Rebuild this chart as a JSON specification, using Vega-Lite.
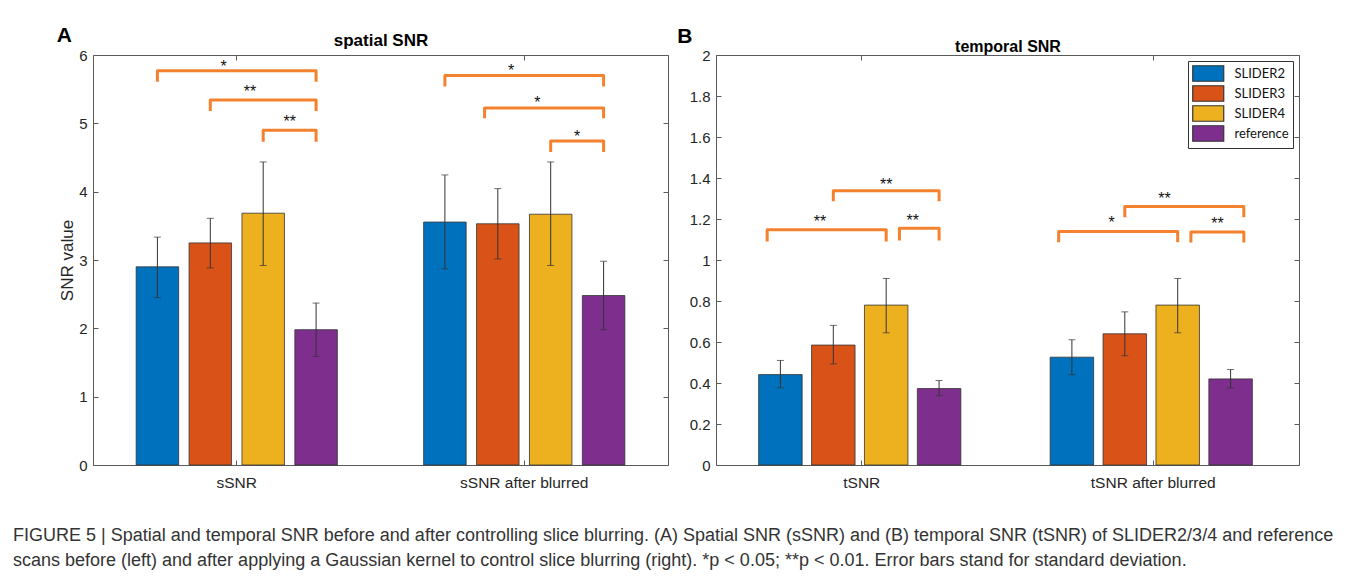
{
  "$schema": "https://vega.github.io/schema/vega-lite/v6.json",
  "background": "white",
  "padding": {"left": 13, "top": 24, "right": 5, "bottom": 2},
  "config": {
    "font": "Liberation Sans",
    "view": {"stroke": "#5a5a5a", "strokeWidth": 1},
    "axis": {
      "labelFont": "Liberation Sans",
      "labelFontSize": 15,
      "labelColor": "#262626",
      "titleFont": "Liberation Sans",
      "titleColor": "#262626",
      "tickColor": "#5a5a5a",
      "domain": false,
      "grid": false,
      "tickSize": -5
    }
  },
  "datasets": {
    "A": [
      {"group": "sSNR", "series": "SLIDER2", "mean": 2.90, "lo": 2.45, "hi": 3.335},
      {"group": "sSNR", "series": "SLIDER3", "mean": 3.25, "lo": 2.885, "hi": 3.61},
      {"group": "sSNR", "series": "SLIDER4", "mean": 3.685, "lo": 2.92, "hi": 4.435},
      {"group": "sSNR", "series": "reference", "mean": 1.98, "lo": 1.59, "hi": 2.37},
      {"group": "sSNR after blurred", "series": "SLIDER2", "mean": 3.555, "lo": 2.87, "hi": 4.245},
      {"group": "sSNR after blurred", "series": "SLIDER3", "mean": 3.53, "lo": 3.015, "hi": 4.045},
      {"group": "sSNR after blurred", "series": "SLIDER4", "mean": 3.67, "lo": 2.92, "hi": 4.435},
      {"group": "sSNR after blurred", "series": "reference", "mean": 2.48, "lo": 1.98, "hi": 2.98}
    ],
    "B": [
      {"group": "tSNR", "series": "SLIDER2", "mean": 0.441, "lo": 0.377, "hi": 0.510},
      {"group": "tSNR", "series": "SLIDER3", "mean": 0.585, "lo": 0.493, "hi": 0.681},
      {"group": "tSNR", "series": "SLIDER4", "mean": 0.780, "lo": 0.645, "hi": 0.910},
      {"group": "tSNR", "series": "reference", "mean": 0.373, "lo": 0.338, "hi": 0.412},
      {"group": "tSNR after blurred", "series": "SLIDER2", "mean": 0.526, "lo": 0.440, "hi": 0.611},
      {"group": "tSNR after blurred", "series": "SLIDER3", "mean": 0.640, "lo": 0.533, "hi": 0.747},
      {"group": "tSNR after blurred", "series": "SLIDER4", "mean": 0.780, "lo": 0.645, "hi": 0.910},
      {"group": "tSNR after blurred", "series": "reference", "mean": 0.420, "lo": 0.376, "hi": 0.466}
    ],
    "bracketsA": [
      {"group": "sSNR", "b": "A1", "slot": "SLIDER2", "y": 5.61, "o": 1},
      {"group": "sSNR", "b": "A1", "slot": "SLIDER2", "y": 5.77, "o": 2},
      {"group": "sSNR", "b": "A1", "slot": "reference", "y": 5.77, "o": 3},
      {"group": "sSNR", "b": "A1", "slot": "reference", "y": 5.61, "o": 4},
      {"group": "sSNR", "b": "A2", "slot": "SLIDER3", "y": 5.18, "o": 1},
      {"group": "sSNR", "b": "A2", "slot": "SLIDER3", "y": 5.34, "o": 2},
      {"group": "sSNR", "b": "A2", "slot": "reference", "y": 5.34, "o": 3},
      {"group": "sSNR", "b": "A2", "slot": "reference", "y": 5.18, "o": 4},
      {"group": "sSNR", "b": "A3", "slot": "SLIDER4", "y": 4.73, "o": 1},
      {"group": "sSNR", "b": "A3", "slot": "SLIDER4", "y": 4.90, "o": 2},
      {"group": "sSNR", "b": "A3", "slot": "reference", "y": 4.90, "o": 3},
      {"group": "sSNR", "b": "A3", "slot": "reference", "y": 4.73, "o": 4},
      {"group": "sSNR after blurred", "b": "A4", "slot": "SLIDER2", "y": 5.54, "o": 1},
      {"group": "sSNR after blurred", "b": "A4", "slot": "SLIDER2", "y": 5.70, "o": 2},
      {"group": "sSNR after blurred", "b": "A4", "slot": "reference", "y": 5.70, "o": 3},
      {"group": "sSNR after blurred", "b": "A4", "slot": "reference", "y": 5.54, "o": 4},
      {"group": "sSNR after blurred", "b": "A5", "slot": "q3", "y": 5.075, "o": 1},
      {"group": "sSNR after blurred", "b": "A5", "slot": "q3", "y": 5.225, "o": 2},
      {"group": "sSNR after blurred", "b": "A5", "slot": "reference", "y": 5.225, "o": 3},
      {"group": "sSNR after blurred", "b": "A5", "slot": "reference", "y": 5.075, "o": 4},
      {"group": "sSNR after blurred", "b": "A6", "slot": "SLIDER4", "y": 4.58, "o": 1},
      {"group": "sSNR after blurred", "b": "A6", "slot": "SLIDER4", "y": 4.74, "o": 2},
      {"group": "sSNR after blurred", "b": "A6", "slot": "reference", "y": 4.74, "o": 3},
      {"group": "sSNR after blurred", "b": "A6", "slot": "reference", "y": 4.58, "o": 4}
    ],
    "starsA": [
      {"group": "sSNR", "slot": "q5", "y": 5.89, "t": "*"},
      {"group": "sSNR", "slot": "q7", "y": 5.51, "t": "**"},
      {"group": "sSNR", "slot": "q10", "y": 5.075, "t": "**"},
      {"group": "sSNR after blurred", "slot": "q5", "y": 5.82, "t": "*"},
      {"group": "sSNR after blurred", "slot": "q7", "y": 5.36, "t": "*"},
      {"group": "sSNR after blurred", "slot": "q10", "y": 4.86, "t": "*"}
    ],
    "bracketsB": [
      {"group": "tSNR", "b": "B1", "slot": "L", "y": 1.090, "o": 1},
      {"group": "tSNR", "b": "B1", "slot": "L", "y": 1.147, "o": 2},
      {"group": "tSNR", "b": "B1", "slot": "SLIDER4", "y": 1.147, "o": 3},
      {"group": "tSNR", "b": "B1", "slot": "SLIDER4", "y": 1.090, "o": 4},
      {"group": "tSNR", "b": "B2", "slot": "q9", "y": 1.095, "o": 1},
      {"group": "tSNR", "b": "B2", "slot": "q9", "y": 1.155, "o": 2},
      {"group": "tSNR", "b": "B2", "slot": "reference", "y": 1.155, "o": 3},
      {"group": "tSNR", "b": "B2", "slot": "reference", "y": 1.095, "o": 4},
      {"group": "tSNR", "b": "B3", "slot": "SLIDER3", "y": 1.286, "o": 1},
      {"group": "tSNR", "b": "B3", "slot": "SLIDER3", "y": 1.338, "o": 2},
      {"group": "tSNR", "b": "B3", "slot": "reference", "y": 1.338, "o": 3},
      {"group": "tSNR", "b": "B3", "slot": "reference", "y": 1.286, "o": 4},
      {"group": "tSNR after blurred", "b": "B4", "slot": "L", "y": 1.087, "o": 1},
      {"group": "tSNR after blurred", "b": "B4", "slot": "L", "y": 1.139, "o": 2},
      {"group": "tSNR after blurred", "b": "B4", "slot": "SLIDER4", "y": 1.139, "o": 3},
      {"group": "tSNR after blurred", "b": "B4", "slot": "SLIDER4", "y": 1.087, "o": 4},
      {"group": "tSNR after blurred", "b": "B5", "slot": "q9", "y": 1.085, "o": 1},
      {"group": "tSNR after blurred", "b": "B5", "slot": "q9", "y": 1.136, "o": 2},
      {"group": "tSNR after blurred", "b": "B5", "slot": "R", "y": 1.136, "o": 3},
      {"group": "tSNR after blurred", "b": "B5", "slot": "R", "y": 1.085, "o": 4},
      {"group": "tSNR after blurred", "b": "B6", "slot": "SLIDER3", "y": 1.209, "o": 1},
      {"group": "tSNR after blurred", "b": "B6", "slot": "SLIDER3", "y": 1.261, "o": 2},
      {"group": "tSNR after blurred", "b": "B6", "slot": "R", "y": 1.261, "o": 3},
      {"group": "tSNR after blurred", "b": "B6", "slot": "R", "y": 1.209, "o": 4}
    ],
    "starsB": [
      {"group": "tSNR", "slot": "q3", "y": 1.204, "t": "**"},
      {"group": "tSNR", "slot": "q10", "y": 1.209, "t": "**"},
      {"group": "tSNR", "slot": "SLIDER4", "y": 1.387, "t": "**"},
      {"group": "tSNR after blurred", "slot": "q3", "y": 1.201, "t": "*"},
      {"group": "tSNR after blurred", "slot": "q11", "y": 1.193, "t": "**"},
      {"group": "tSNR after blurred", "slot": "q7", "y": 1.319, "t": "**"}
    ],
    "caption": [
      {"caption": "FIGURE 5 | Spatial and temporal SNR before and after controlling slice blurring. (A) Spatial SNR (sSNR) and (B) temporal SNR (tSNR) of SLIDER2/3/4 and reference\nscans before (left) and after applying a Gaussian kernel to control slice blurring (right). *p < 0.05; **p < 0.01. Error bars stand for standard deviation."}
    ]
  },
  "spacing": 471.5,
  "bounds": "flush",
  "vconcat": [
    {
      "spacing": 7,
      "resolve": {"scale": {"color": "independent"}},
      "hconcat": [
        {
          "width": 575,
          "height": 410,
          "title": {"text": "A", "anchor": "start", "frame": "bounds", "fontSize": 21, "fontWeight": "bold", "color": "#000000", "offset": -14.5, "dx": -2},
          "resolve": {"axis": {"x": "independent", "y": "independent"}},
          "layer": [
            {
              "data": {"name": "A"},
              "mark": {"type": "bar", "width": 42.5, "stroke": "#333333", "strokeWidth": 0.8},
              "encoding": {
                "x": {"field": "group", "type": "nominal", "sort": null,
                      "scale": {"type": "band", "domain": ["sSNR", "sSNR after blurred"], "paddingInner": 0, "paddingOuter": 0},
                      "axis": {"orient": "bottom", "title": null, "labelAngle": 0, "labelPadding": 15, "labelFontSize": 15.5}},
                "xOffset": {"field": "series", "type": "nominal",
                      "scale": {"type": "band", "domain": ["x1", "x2", "x3", "L", "SLIDER2", "q1", "q2", "q3", "SLIDER3", "q5", "q6", "q7", "SLIDER4", "q9", "q10", "q11", "reference", "R", "x4", "x5", "x6"], "paddingInner": 0, "paddingOuter": 0.37}},
                "y": {"field": "mean", "type": "quantitative",
                      "scale": {"domain": [0, 6], "nice": false, "zero": true},
                      "axis": {"orient": "left", "values": [0, 1, 2, 3, 4, 5, 6], "title": "SNR value", "titleFontSize": 17, "titleFontWeight": "normal", "titlePadding": 2, "labelPadding": 11}},
                "color": {"field": "series", "type": "nominal",
                      "scale": {"domain": ["SLIDER2", "SLIDER3", "SLIDER4", "reference"], "range": ["#0072BD", "#D95319", "#EDB120", "#7E2F8E"]},
                      "legend": null}
              }
            },
            {
              "data": {"name": "A"},
              "mark": {"type": "rule", "color": "#333333", "strokeWidth": 1},
              "encoding": {
                "x": {"field": "group", "type": "nominal", "sort": null,
                      "scale": {"type": "band", "domain": ["sSNR", "sSNR after blurred"], "paddingInner": 0, "paddingOuter": 0},
                      "axis": {"orient": "top", "labels": false, "title": "spatial SNR", "titleFontSize": 17, "titleFontWeight": "bold", "titleColor": "#000000", "titlePadding": 5.5}},
                "xOffset": {"field": "series", "type": "nominal",
                      "scale": {"type": "band", "domain": ["x1", "x2", "x3", "L", "SLIDER2", "q1", "q2", "q3", "SLIDER3", "q5", "q6", "q7", "SLIDER4", "q9", "q10", "q11", "reference", "R", "x4", "x5", "x6"], "paddingInner": 0, "paddingOuter": 0.37}},
                "y": {"field": "lo", "type": "quantitative", "scale": {"domain": [0, 6], "nice": false},
                      "axis": {"orient": "right", "labels": false, "title": null, "values": [0, 1, 2, 3, 4, 5, 6]}},
                "y2": {"field": "hi"}
              }
            },
            {
              "data": {"name": "A"},
              "mark": {"type": "tick", "orient": "horizontal", "size": 7, "thickness": 1, "color": "#333333"},
              "encoding": {
                "x": {"field": "group", "type": "nominal", "sort": null, "scale": {"type": "band", "domain": ["sSNR", "sSNR after blurred"], "paddingInner": 0, "paddingOuter": 0}, "axis": null},
                "xOffset": {"field": "series", "type": "nominal", "scale": {"type": "band", "domain": ["x1", "x2", "x3", "L", "SLIDER2", "q1", "q2", "q3", "SLIDER3", "q5", "q6", "q7", "SLIDER4", "q9", "q10", "q11", "reference", "R", "x4", "x5", "x6"], "paddingInner": 0, "paddingOuter": 0.37}},
                "y": {"field": "lo", "type": "quantitative", "axis": null}
              }
            },
            {
              "data": {"name": "A"},
              "mark": {"type": "tick", "orient": "horizontal", "size": 7, "thickness": 1, "color": "#333333"},
              "encoding": {
                "x": {"field": "group", "type": "nominal", "sort": null, "scale": {"type": "band", "domain": ["sSNR", "sSNR after blurred"], "paddingInner": 0, "paddingOuter": 0}, "axis": null},
                "xOffset": {"field": "series", "type": "nominal", "scale": {"type": "band", "domain": ["x1", "x2", "x3", "L", "SLIDER2", "q1", "q2", "q3", "SLIDER3", "q5", "q6", "q7", "SLIDER4", "q9", "q10", "q11", "reference", "R", "x4", "x5", "x6"], "paddingInner": 0, "paddingOuter": 0.37}},
                "y": {"field": "hi", "type": "quantitative", "axis": null}
              }
            },
            {
              "data": {"name": "bracketsA"},
              "mark": {"type": "line", "color": "#F4812E", "strokeWidth": 3, "strokeJoin": "round", "strokeCap": "butt"},
              "encoding": {
                "x": {"field": "group", "type": "nominal", "sort": null, "scale": {"type": "band", "domain": ["sSNR", "sSNR after blurred"], "paddingInner": 0, "paddingOuter": 0}, "axis": null},
                "xOffset": {"field": "slot", "type": "nominal", "scale": {"type": "band", "domain": ["x1", "x2", "x3", "L", "SLIDER2", "q1", "q2", "q3", "SLIDER3", "q5", "q6", "q7", "SLIDER4", "q9", "q10", "q11", "reference", "R", "x4", "x5", "x6"], "paddingInner": 0, "paddingOuter": 0.37}},
                "y": {"field": "y", "type": "quantitative", "axis": null},
                "detail": {"field": "b", "type": "nominal"},
                "order": {"field": "o", "type": "quantitative"}
              }
            },
            {
              "data": {"name": "starsA"},
              "mark": {"type": "text", "fontSize": 16, "color": "#111111", "baseline": "middle", "align": "center", "dy": 4},
              "encoding": {
                "x": {"field": "group", "type": "nominal", "sort": null, "scale": {"type": "band", "domain": ["sSNR", "sSNR after blurred"], "paddingInner": 0, "paddingOuter": 0}, "axis": null},
                "xOffset": {"field": "slot", "type": "nominal", "scale": {"type": "band", "domain": ["x1", "x2", "x3", "L", "SLIDER2", "q1", "q2", "q3", "SLIDER3", "q5", "q6", "q7", "SLIDER4", "q9", "q10", "q11", "reference", "R", "x4", "x5", "x6"], "paddingInner": 0, "paddingOuter": 0.37}},
                "y": {"field": "y", "type": "quantitative", "axis": null},
                "text": {"field": "t", "type": "nominal"}
              }
            }
          ]
        },
        {
          "width": 583,
          "height": 410,
          "title": {"text": "B", "anchor": "start", "frame": "bounds", "fontSize": 21, "fontWeight": "bold", "color": "#000000", "offset": -8, "dx": -12},
          "resolve": {"axis": {"x": "independent", "y": "independent"}},
          "layer": [
            {
              "data": {"name": "B"},
              "mark": {"type": "bar", "width": 43.5, "stroke": "#333333", "strokeWidth": 0.8},
              "encoding": {
                "x": {"field": "group", "type": "nominal", "sort": null,
                      "scale": {"type": "band", "domain": ["tSNR", "tSNR after blurred"], "paddingInner": 0, "paddingOuter": 0},
                      "axis": {"orient": "bottom", "title": null, "labelAngle": 0, "labelPadding": 15, "labelFontSize": 15.5}},
                "xOffset": {"field": "series", "type": "nominal",
                      "scale": {"type": "band", "domain": ["x1", "x2", "x3", "L", "SLIDER2", "q1", "q2", "q3", "SLIDER3", "q5", "q6", "q7", "SLIDER4", "q9", "q10", "q11", "reference", "R", "x4", "x5", "x6"], "paddingInner": 0, "paddingOuter": 0.37}},
                "y": {"field": "mean", "type": "quantitative",
                      "scale": {"domain": [0, 2], "nice": false, "zero": true},
                      "axis": {"orient": "left", "values": [0, 0.2, 0.4, 0.6, 0.8, 1, 1.2, 1.4, 1.6, 1.8, 2], "format": "~g", "title": null, "labelPadding": 11}},
                "color": {"field": "series", "type": "nominal",
                      "scale": {"domain": ["SLIDER2", "SLIDER3", "SLIDER4", "reference"], "range": ["#0072BD", "#D95319", "#EDB120", "#7E2F8E"]},
                      "legend": {"orient": "top-right", "offset": 6, "title": null,
                                 "symbolType": "M-1,-1H3V1H-1Z", "symbolSize": 240,
                                 "symbolStrokeColor": "#333333", "symbolStrokeWidth": 1.2, "symbolOpacity": 1,
                                 "labelFont": "Lato", "labelFontSize": 13, "labelColor": "#111111", "labelOffset": 25.5,
                                 "strokeColor": "#333333", "fillColor": "#ffffff", "padding": 4, "rowPadding": -1}}
              }
            },
            {
              "data": {"name": "B"},
              "mark": {"type": "rule", "color": "#333333", "strokeWidth": 1},
              "encoding": {
                "x": {"field": "group", "type": "nominal", "sort": null,
                      "scale": {"type": "band", "domain": ["tSNR", "tSNR after blurred"], "paddingInner": 0, "paddingOuter": 0},
                      "axis": {"orient": "top", "labels": false, "title": "temporal SNR", "titleFontSize": 16, "titleFontWeight": "bold", "titleColor": "#000000", "titlePadding": 0}},
                "xOffset": {"field": "series", "type": "nominal",
                      "scale": {"type": "band", "domain": ["x1", "x2", "x3", "L", "SLIDER2", "q1", "q2", "q3", "SLIDER3", "q5", "q6", "q7", "SLIDER4", "q9", "q10", "q11", "reference", "R", "x4", "x5", "x6"], "paddingInner": 0, "paddingOuter": 0.37}},
                "y": {"field": "lo", "type": "quantitative", "scale": {"domain": [0, 2], "nice": false},
                      "axis": {"orient": "right", "labels": false, "title": null, "values": [0, 0.2, 0.4, 0.6, 0.8, 1, 1.2, 1.4, 1.6, 1.8, 2]}},
                "y2": {"field": "hi"}
              }
            },
            {
              "data": {"name": "B"},
              "mark": {"type": "tick", "orient": "horizontal", "size": 7, "thickness": 1, "color": "#333333"},
              "encoding": {
                "x": {"field": "group", "type": "nominal", "sort": null, "scale": {"type": "band", "domain": ["tSNR", "tSNR after blurred"], "paddingInner": 0, "paddingOuter": 0}, "axis": null},
                "xOffset": {"field": "series", "type": "nominal", "scale": {"type": "band", "domain": ["x1", "x2", "x3", "L", "SLIDER2", "q1", "q2", "q3", "SLIDER3", "q5", "q6", "q7", "SLIDER4", "q9", "q10", "q11", "reference", "R", "x4", "x5", "x6"], "paddingInner": 0, "paddingOuter": 0.37}},
                "y": {"field": "lo", "type": "quantitative", "axis": null}
              }
            },
            {
              "data": {"name": "B"},
              "mark": {"type": "tick", "orient": "horizontal", "size": 7, "thickness": 1, "color": "#333333"},
              "encoding": {
                "x": {"field": "group", "type": "nominal", "sort": null, "scale": {"type": "band", "domain": ["tSNR", "tSNR after blurred"], "paddingInner": 0, "paddingOuter": 0}, "axis": null},
                "xOffset": {"field": "series", "type": "nominal", "scale": {"type": "band", "domain": ["x1", "x2", "x3", "L", "SLIDER2", "q1", "q2", "q3", "SLIDER3", "q5", "q6", "q7", "SLIDER4", "q9", "q10", "q11", "reference", "R", "x4", "x5", "x6"], "paddingInner": 0, "paddingOuter": 0.37}},
                "y": {"field": "hi", "type": "quantitative", "axis": null}
              }
            },
            {
              "data": {"name": "bracketsB"},
              "mark": {"type": "line", "color": "#F4812E", "strokeWidth": 3, "strokeJoin": "round", "strokeCap": "butt"},
              "encoding": {
                "x": {"field": "group", "type": "nominal", "sort": null, "scale": {"type": "band", "domain": ["tSNR", "tSNR after blurred"], "paddingInner": 0, "paddingOuter": 0}, "axis": null},
                "xOffset": {"field": "slot", "type": "nominal", "scale": {"type": "band", "domain": ["x1", "x2", "x3", "L", "SLIDER2", "q1", "q2", "q3", "SLIDER3", "q5", "q6", "q7", "SLIDER4", "q9", "q10", "q11", "reference", "R", "x4", "x5", "x6"], "paddingInner": 0, "paddingOuter": 0.37}},
                "y": {"field": "y", "type": "quantitative", "axis": null},
                "detail": {"field": "b", "type": "nominal"},
                "order": {"field": "o", "type": "quantitative"}
              }
            },
            {
              "data": {"name": "starsB"},
              "mark": {"type": "text", "fontSize": 16, "color": "#111111", "baseline": "middle", "align": "center", "dy": 4},
              "encoding": {
                "x": {"field": "group", "type": "nominal", "sort": null, "scale": {"type": "band", "domain": ["tSNR", "tSNR after blurred"], "paddingInner": 0, "paddingOuter": 0}, "axis": null},
                "xOffset": {"field": "slot", "type": "nominal", "scale": {"type": "band", "domain": ["x1", "x2", "x3", "L", "SLIDER2", "q1", "q2", "q3", "SLIDER3", "q5", "q6", "q7", "SLIDER4", "q9", "q10", "q11", "reference", "R", "x4", "x5", "x6"], "paddingInner": 0, "paddingOuter": 0.37}},
                "y": {"field": "y", "type": "quantitative", "axis": null},
                "text": {"field": "t", "type": "nominal"}
              }
            }
          ]
        }
      ]
    },
    {
      "width": 1,
      "height": 1,
      "view": {"stroke": null},
      "data": {"name": "caption"},
      "mark": {"type": "text", "align": "left", "baseline": "top", "dx": -80.5, "lineBreak": "\n", "lineHeight": 25, "font": "Liberation Sans", "fontSize": 18, "color": "#333333"},
      "encoding": {"text": {"field": "caption", "type": "nominal"}}
    }
  ]
}
